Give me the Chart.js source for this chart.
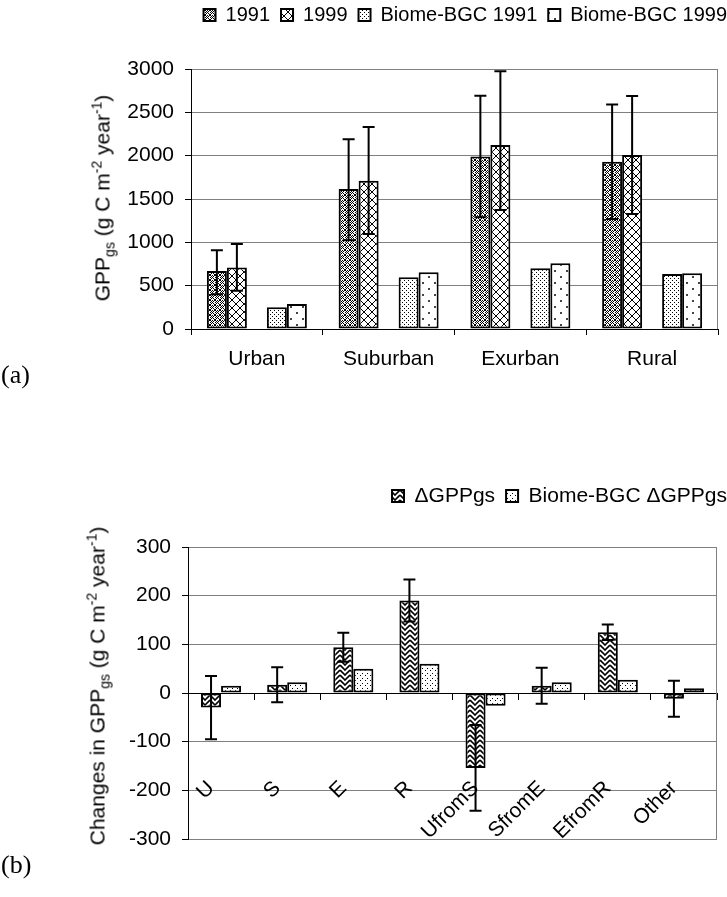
<!DOCTYPE html>
<html>
<head>
<meta charset="utf-8">
<script src="https://cdn.jsdelivr.net/npm/chart.js@4.4.0/dist/chart.umd.min.js"></script>
<style>
  html, body { margin: 0; padding: 0; background: #fff; overflow: hidden; }
  #wrap { position: relative; width: 727px; height: 897px; overflow: hidden; }
  canvas { position: absolute; left: 0; }
  #chartA { top: -20px; }
  #chartB { top: 440px; }
  .ytitle {
    position: absolute; white-space: nowrap; line-height: 1;
    font-family: 'Liberation Sans', Arial, sans-serif; font-size: 21px; color: #000;
    transform: translate(-50%, -50%) rotate(-90deg);
  }
  .ytitle sub, .ytitle sup { font-size: 14px; line-height: 0; }
  .panel {
    position: absolute; left: 1px;
    font-family: 'Liberation Serif', 'Times New Roman', serif; font-size: 26px; color: #000;
  }
</style>
</head>
<body>
<div id="wrap">
  <canvas id="chartA" width="738" height="420"></canvas>
  <canvas id="chartB" width="738" height="457"></canvas>
  <div class="ytitle" style="left:102px; top:198px">GPP<sub>gs</sub> (g C m<sup>-2</sup> year<sup>-1</sup>)</div>
  <div class="ytitle" style="left:97px; top:686px">Changes in GPP<sub>gs</sub> (g C m<sup>-2</sup> year<sup>-1</sup>)</div>
  <div class="panel" style="top:360px">(a)</div>
  <div class="panel" style="top:850px">(b)</div>
</div>
<script>
// panel (a)
const landTypes = ['Urban', 'Suburban', 'Exurban', 'Rural'];
const gpp1991 = [670, 1615, 1990, 1930];
const gpp1991ErrHi = [240, 575, 700, 660];
const gpp1991ErrLo = [270, 590, 700, 660];
const gpp1999 = [711, 1711, 2123, 2008];
const gpp1999ErrHi = [270, 620, 850, 680];
const gpp1999ErrLo = [270, 615, 750, 680];
const bgc1991 = [250, 596, 700, 635];
const bgc1999 = [288, 654, 758, 642];

// panel (b)
const changeTypes = ['U', 'S', 'E', 'R', 'UfromS', 'SfromE', 'EfromR', 'Other'];
const deltaGpp = [-30, 17, 94, 190, -154, 15, 125, -12];
const deltaGppErr = [65, 36, 30, 43, 88, 37, 16, 37];
const bgcDelta = [15, 22, 50, 60, -26, 22, 27, 10];

Chart.defaults.font.family = "'Liberation Sans', Arial, sans-serif";
Chart.defaults.font.size = 21;
Chart.defaults.color = '#000';

// hatch fills, drawn pixel by pixel on small tiles
function makePattern(w, h, draw) {
  const c = document.createElement('canvas');
  c.width = w; c.height = h;
  const g = c.getContext('2d');
  g.fillStyle = '#fff';
  g.fillRect(0, 0, w, h);
  g.fillStyle = '#000';
  g.strokeStyle = '#000';
  draw(g, w, h);
  return g.createPattern(c, 'repeat');
}
const dots = (g, pts, s) => pts.forEach(p => g.fillRect(p[0], p[1], s || 1, s || 1));

const pat1991 = makePattern(5, 5, g => dots(g, [[0,0],[1,1],[2,2],[3,3],[4,4],[4,0],[3,1],[1,3],[0,4],[2,0],[0,2]]));
const pat1999 = makePattern(8, 8, g => {
  for (let i = 0; i < 8; i++) { g.fillRect(i, i, 1, 1); g.fillRect(7 - i, i, 1, 1); }
});
const patBgc1991 = makePattern(4, 4, g => dots(g, [[0,0],[2,2]]));
const patBgc1999 = makePattern(12, 12, g => { g.fillStyle = '#444'; dots(g, [[2,2],[8,8]], 2); });
const patDelta = makePattern(10, 5, g => {
  g.lineWidth = 1.6;
  [-5, 0, 5].forEach(off => {
    g.beginPath(); g.moveTo(0, off); g.lineTo(5, off + 5); g.lineTo(10, off); g.stroke();
  });
});
const patBgcDelta = makePattern(5, 5, g => dots(g, [[0,0],[2,3]]));

const errorBars = {
  id: 'errorBars',
  afterDatasetsDraw(chart) {
    const ctx = chart.ctx;
    const yScale = chart.scales.y;
    chart.data.datasets.forEach((ds, di) => {
      if (!ds.errHigh) return;
      chart.getDatasetMeta(di).data.forEach((bar, i) => {
        const v = ds.data[i];
        const yTop = yScale.getPixelForValue(v + ds.errHigh[i]);
        const yBot = yScale.getPixelForValue(v - ds.errLow[i]);
        ctx.save();
        ctx.strokeStyle = '#000';
        ctx.lineWidth = 2;
        ctx.beginPath();
        ctx.moveTo(bar.x, yTop); ctx.lineTo(bar.x, yBot);
        ctx.moveTo(bar.x - 6, yTop); ctx.lineTo(bar.x + 6, yTop);
        ctx.moveTo(bar.x - 6, yBot); ctx.lineTo(bar.x + 6, yBot);
        ctx.stroke();
        ctx.restore();
      });
    });
  }
};

// grey right edge of the plot area
const plotFrame = {
  id: 'plotFrame',
  beforeDatasetsDraw(chart) {
    const { ctx, chartArea } = chart;
    ctx.save();
    ctx.strokeStyle = '#808080';
    ctx.lineWidth = 1;
    ctx.beginPath();
    ctx.moveTo(chartArea.right - 0.5, chartArea.top);
    ctx.lineTo(chartArea.right - 0.5, chartArea.bottom);
    ctx.stroke();
    ctx.restore();
  }
};

// slanted category names of panel (b), hung well below the zero line
const slantedLabels = {
  id: 'slantedLabels',
  afterDatasetsDraw(chart) {
    const ctx = chart.ctx;
    const xs = chart.scales.x;
    const y0 = chart.scales.y.getPixelForValue(0) + 92;
    ctx.save();
    ctx.fillStyle = '#000';
    ctx.font = "21px 'Liberation Sans', Arial, sans-serif";
    ctx.textAlign = 'right';
    ctx.textBaseline = 'middle';
    chart.data.labels.forEach((lab, i) => {
      ctx.save();
      ctx.translate(xs.getPixelForValue(i) - 10, y0);
      ctx.rotate(-Math.PI / 4);
      ctx.fillText(lab, 0, 0);
      ctx.restore();
    });
    ctx.restore();
  }
};

const bar = (label, data, bg) => ({
  label, data, backgroundColor: bg, borderColor: '#000', borderWidth: 2, borderSkipped: false
});

const legendOpts = size => ({
  position: 'top', align: 'end',
  labels: { boxWidth: 12, boxHeight: 12, padding: 11, font: { size }, filter: item => item.text !== '' }
});

const spacer = h => ({
  type: 'category', position: 'top',
  grid: { display: false }, ticks: { display: false }, border: { display: false },
  afterFit: s => { s.height = h; }
});
const rightSpacer = w => ({
  type: 'linear', position: 'right',
  grid: { display: false }, ticks: { display: false }, border: { display: false },
  afterFit: s => { s.width = w; }
});
const plainNumber = v => String(v);

const set1991 = bar('1991', gpp1991, pat1991);
set1991.errHigh = gpp1991ErrHi; set1991.errLow = gpp1991ErrLo;
const set1999 = bar('1999', gpp1999, pat1999);
set1999.errHigh = gpp1999ErrHi; set1999.errLow = gpp1999ErrLo;

new Chart(document.getElementById('chartA'), {
  type: 'bar',
  data: {
    labels: landTypes,
    datasets: [
      set1991,
      set1999,
      bar('', landTypes.map(() => null), '#fff'),
      bar('Biome-BGC 1991', bgc1991, patBgc1991),
      bar('Biome-BGC 1999', bgc1999, patBgc1999)
    ]
  },
  options: {
    responsive: false,
    animation: false,
    devicePixelRatio: 1,
    layout: { padding: { top: 14, left: 0, right: 0, bottom: 0 } },
    datasets: { bar: { categoryPercentage: 0.759, barPercentage: 1 } },
    plugins: { legend: legendOpts(20), tooltip: { enabled: false } },
    scales: {
      x: {
        type: 'category', position: 'bottom', offset: true,
        grid: { drawOnChartArea: false, tickLength: 6, tickColor: '#000', offset: true },
        border: { color: '#000' },
        ticks: { padding: 12, maxRotation: 0, autoSkip: false },
        afterFit: s => { s.height = 71; }
      },
      xTop: spacer(34),
      y: {
        min: 0, max: 3000,
        ticks: { stepSize: 500, padding: 11, callback: plainNumber },
        grid: { color: '#808080', tickLength: 6, tickColor: '#000' },
        border: { color: '#000' },
        afterFit: s => { s.width = 191; }
      },
      y2: rightSpacer(20)
    }
  },
  plugins: [plotFrame, errorBars]
});

const setDelta = bar('\u0394GPPgs', deltaGpp, patDelta);
setDelta.errHigh = deltaGppErr; setDelta.errLow = deltaGppErr;

new Chart(document.getElementById('chartB'), {
  type: 'bar',
  data: {
    labels: changeTypes,
    datasets: [
      setDelta,
      bar('Biome-BGC \u0394GPPgs', bgcDelta, patBgcDelta)
    ]
  },
  options: {
    responsive: false,
    animation: false,
    devicePixelRatio: 1,
    layout: { padding: { top: 34.5, left: 0, right: 0, bottom: 58 } },
    datasets: { bar: { categoryPercentage: 0.606, barPercentage: 1 } },
    plugins: { legend: legendOpts(21), tooltip: { enabled: false } },
    scales: {
      x: {
        type: 'category', position: { y: 0 }, offset: true,
        grid: { drawOnChartArea: false, tickLength: 6, tickColor: '#000', offset: true },
        border: { color: '#000' },
        ticks: { display: false }
      },
      xTop: spacer(30.5),
      y: {
        min: -300, max: 300,
        ticks: { stepSize: 100, padding: 11, callback: plainNumber },
        grid: { color: '#808080', tickLength: 6, tickColor: '#000' },
        border: { color: '#000' },
        afterFit: s => { s.width = 188; }
      },
      y2: rightSpacer(21)
    }
  },
  plugins: [plotFrame, errorBars, slantedLabels]
});
</script>
</body>
</html>
